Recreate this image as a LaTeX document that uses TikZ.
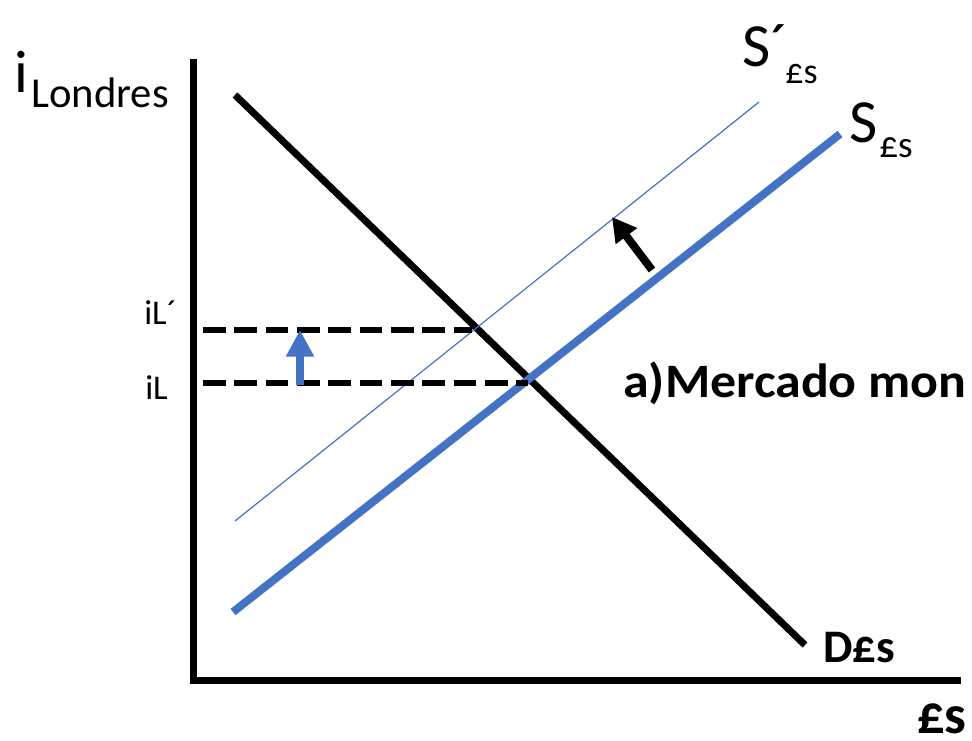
\documentclass[tikz,border=0pt]{standalone}
\usepackage{fontspec}
\setmainfont{Carlito}
\usetikzlibrary{arrows.meta}
\definecolor{sblue}{HTML}{4472C4}
\begin{document}
\begin{tikzpicture}[x=0.75pt,y=-0.75pt,
  axis/.style={line width=5.25pt,line cap=rect},
  curve/.style={line width=5.25pt},
  lbl/.style={inner sep=0pt,anchor=base west},
  guide/.style={line width=4.5pt,dash pattern=on 17pt off 6.5pt}]
\useasboundingbox (0,0) rectangle (972,740);
% axes
\coordinate (ytop) at (193,62);
\coordinate (orig) at (193,680);
\coordinate (xend) at (957,680);
\draw[axis] (ytop) -- (orig) -- (xend);
% curves
\coordinate (d1) at (235,95);
\coordinate (d2) at (805,645);
\draw[curve] (d1) -- (d2);
\coordinate (s1) at (233,612);
\coordinate (s2) at (840,134);
\draw[sblue,line width=6pt] (s1) -- (s2);
\coordinate (sp1) at (235,521);
\coordinate (sp2) at (759,102);
\draw[sblue,line width=0.9pt] (sp1) -- (sp2);
% guides
\coordinate (g1a) at (203,330);
\coordinate (g1b) at (472,330);
\coordinate (g2a) at (203,383);
\coordinate (g2b) at (528,383);
\draw[guide] (g1a) -- (g1b);
\draw[guide] (g2a) -- (g2b);
% arrows
\coordinate (ba) at (300,385);
\coordinate (bb) at (300,330);
\draw[sblue,line width=6.5pt,-{Triangle[length=20pt,width=20pt]}] (ba) -- (bb);
\coordinate (ka) at (652,270);
\coordinate (kb) at (612,217);
\draw[black,line width=6pt,-{Triangle[length=18pt,width=19pt]}] (ka) -- (kb);
% labels
\node[lbl,font=\fontsize{45}{45}\selectfont] (ilab) at (14,92) {i};
\node[lbl,font=\fontsize{32}{32}\selectfont] (lond) at (31,107) {Londres};
\node[lbl,font=\fontsize{26}{26}\selectfont] (ilp) at (144,324) {iL´};
\node[lbl,font=\fontsize{26}{26}\selectfont] (il) at (145,399) {iL};
\node[lbl,font=\fontsize{46}{46}\selectfont] (spS) at (742,66) {S´};
\node[lbl,font=\fontsize{27}{27}\selectfont] (spsub) at (785,83) {£s};
\node[lbl,font=\fontsize{46}{46}\selectfont] (sS) at (849,142) {S};
\node[lbl,font=\fontsize{28}{28}\selectfont] (ssub) at (879,157) {£s};
\node[lbl,font=\bfseries\fontsize{36}{36}\selectfont,xscale=1.08] (merc) at (623,397) {a)Mercado mon};
\node[lbl,font=\bfseries\fontsize{35}{35}\selectfont] (dlab) at (823,662) {D£s};
\node[lbl,font=\bfseries\fontsize{41}{41}\selectfont] (xlab) at (917,733) {£s};
\end{tikzpicture}
\end{document}
